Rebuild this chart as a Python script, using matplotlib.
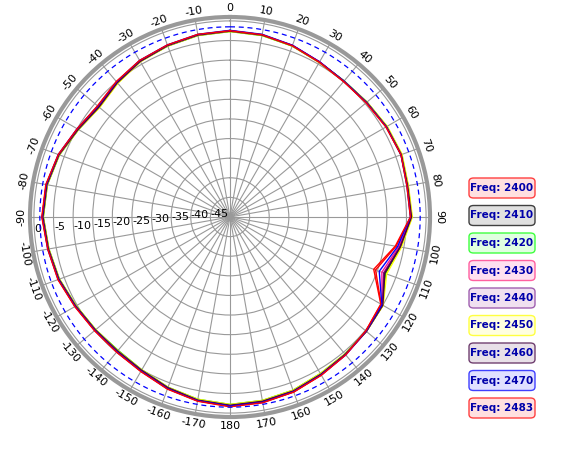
import numpy as np
import matplotlib.pyplot as plt
from matplotlib.patches import FancyBboxPatch

angles = np.arange(0, 370, 10)
s2400 = [-2.5, -2.8, -3.6, -4.5, -4.9, -4.6, -4.0, -3.5, -4.1, -3.9, -7.0, -10.5, -5.5, -4.8, -4.2, -3.5, -2.5, -2.0, -1.7, -2.4, -3.4, -4.6, -5.1, -5.0, -4.4, -3.4, -2.9, -2.1, -2.4, -3.5, -5.1, -6.0, -5.0, -4.0, -3.4, -2.8, -2.5]
s2410 = [-2.6, -2.9, -3.5, -4.4, -4.8, -4.5, -3.9, -3.6, -4.0, -3.7, -6.0, -8.0, -5.0, -4.6, -4.3, -3.7, -2.8, -2.3, -2.0, -2.6, -3.6, -4.8, -5.4, -5.2, -4.6, -3.6, -3.0, -2.3, -2.6, -3.6, -5.3, -6.3, -5.2, -4.1, -3.5, -2.9, -2.6]
s2420 = [-2.7, -3.0, -3.6, -4.4, -4.7, -4.4, -3.8, -3.4, -3.9, -3.6, -5.8, -7.8, -5.0, -4.7, -4.4, -3.9, -3.0, -2.5, -2.2, -2.8, -3.8, -5.0, -5.6, -5.3, -4.7, -3.7, -3.1, -2.4, -2.7, -3.7, -5.4, -6.5, -5.4, -4.2, -3.6, -3.0, -2.7]
s2430 = [-2.5, -2.8, -3.4, -4.3, -4.8, -4.5, -3.9, -3.5, -4.0, -3.8, -6.3, -8.8, -5.2, -4.6, -4.1, -3.5, -2.6, -2.1, -1.8, -2.5, -3.5, -4.7, -5.2, -5.0, -4.4, -3.5, -2.9, -2.2, -2.5, -3.5, -5.0, -6.1, -5.1, -4.0, -3.4, -2.8, -2.5]
s2440 = [-2.6, -2.9, -3.5, -4.4, -4.8, -4.5, -3.9, -3.5, -3.9, -3.7, -6.0, -8.3, -5.1, -4.7, -4.3, -3.7, -2.8, -2.3, -2.0, -2.6, -3.6, -4.8, -5.3, -5.1, -4.5, -3.6, -3.0, -2.3, -2.6, -3.6, -5.2, -6.2, -5.2, -4.1, -3.5, -2.9, -2.6]
s2450 = [-2.7, -3.0, -3.6, -4.5, -4.8, -4.4, -3.7, -3.3, -3.8, -3.5, -5.6, -7.5, -4.9, -4.6, -4.4, -3.9, -3.0, -2.5, -2.2, -2.8, -3.8, -5.0, -5.5, -5.3, -4.7, -3.7, -3.1, -2.4, -2.7, -3.7, -5.4, -6.6, -5.5, -4.3, -3.6, -3.0, -2.7]
s2460 = [-2.6, -2.9, -3.5, -4.4, -4.8, -4.5, -3.9, -3.5, -4.0, -3.7, -5.9, -8.0, -5.0, -4.6, -4.3, -3.7, -2.8, -2.3, -2.0, -2.6, -3.7, -4.9, -5.4, -5.2, -4.6, -3.6, -3.0, -2.3, -2.6, -3.6, -5.3, -6.4, -5.3, -4.2, -3.5, -2.9, -2.6]
s2470 = [-2.4, -2.7, -3.4, -4.3, -4.8, -4.6, -4.0, -3.6, -4.2, -4.0, -6.6, -9.5, -5.3, -4.7, -4.1, -3.5, -2.6, -2.0, -1.8, -2.4, -3.4, -4.6, -5.1, -5.0, -4.4, -3.4, -2.8, -2.1, -2.4, -3.4, -5.0, -6.0, -5.0, -3.9, -3.3, -2.7, -2.4]
s2483 = [-2.5, -2.8, -3.5, -4.4, -4.9, -4.7, -4.1, -3.6, -4.2, -4.0, -7.2, -11.0, -5.6, -4.8, -4.1, -3.4, -2.5, -1.9, -1.6, -2.3, -3.3, -4.5, -5.0, -4.9, -4.3, -3.3, -2.8, -2.0, -2.3, -3.4, -5.0, -5.9, -4.9, -3.9, -3.3, -2.7, -2.5]
series = [s2400, s2410, s2420, s2430, s2440, s2450, s2460, s2470, s2483]
labels = ['Freq: 2400', 'Freq: 2410', 'Freq: 2420', 'Freq: 2430', 'Freq: 2440',
          'Freq: 2450', 'Freq: 2460', 'Freq: 2470', 'Freq: 2483']
colors = ['#ff0000', '#000000', '#00cc00', '#ff1493', '#800080', '#ffff00', '#4b0040', '#0000ff', '#ff0000']
faces = ['#ffe0e0', '#e0e0e0', '#e0ffe0', '#ffe0f0', '#f0e0f0', '#ffffe0', '#e8e0e8', '#e0e0ff', '#ffe0e0']
edges = ['#ff4040', '#404040', '#40ff40', '#ff60a0', '#a060b0', '#ffff40', '#704070', '#4040ff', '#ff4040']
ref_level = -1.5
rticks = [0, -5, -10, -15, -20, -25, -30, -35, -40, -45]
tick_deg = np.arange(-170, 190, 10)

fig = plt.figure(figsize=(5.76, 4.51), dpi=100)
R = 200
ax = fig.add_axes([(230 - R) / 576, (451 - 217 - R) / 451, 2 * R / 576, 2 * R / 451], projection='polar')
ax.set_theta_zero_location('N')
ax.set_theta_direction(-1)
ax.set_ylim(-50, 1.0)

th = np.deg2rad(angles)
for s, c in zip(series, colors):
    ax.plot(th, s, color=c, lw=1.0)
ax.plot(np.linspace(0, 2 * np.pi, 361), [ref_level] * 361, color='blue', ls=(0, (4, 3)), lw=0.9)

ax.set_thetagrids(tick_deg % 360, [''] * len(tick_deg))
for d in tick_deg:
    a = np.deg2rad(d)
    k = 1.045
    rot = -d if abs(d) <= 90 else 180 - d
    ax.text(0.5 + 0.5 * k * np.sin(a), 0.5 + 0.5 * k * np.cos(a), str(d),
            transform=ax.transAxes, rotation=rot, rotation_mode='anchor',
            ha='center', va='center', fontsize=8)
ax.set_rgrids(rticks, [str(r) for r in rticks], fontsize=8)
ax.set_rlabel_position(265)
ax.grid(color='#999999', lw=0.8)
ax.spines['polar'].set_color('#999999')
ax.spines['polar'].set_linewidth(3)

for i, lab in enumerate(labels):
    y = 1 - (178 + i * 27.5) / 451
    box = FancyBboxPatch((469 / 576, y - 20 / 451), 66 / 576, 20 / 451,
                         boxstyle='round,pad=0,rounding_size=0.008',
                         transform=fig.transFigure, fc=faces[i], ec=edges[i], lw=1)
    fig.patches.append(box)
    fig.text(502 / 576, y - 10 / 451, lab, ha='center', va='center',
             fontsize=7.5, color='#0000aa', fontweight='bold')

fig.savefig('out.png', dpi=100)
